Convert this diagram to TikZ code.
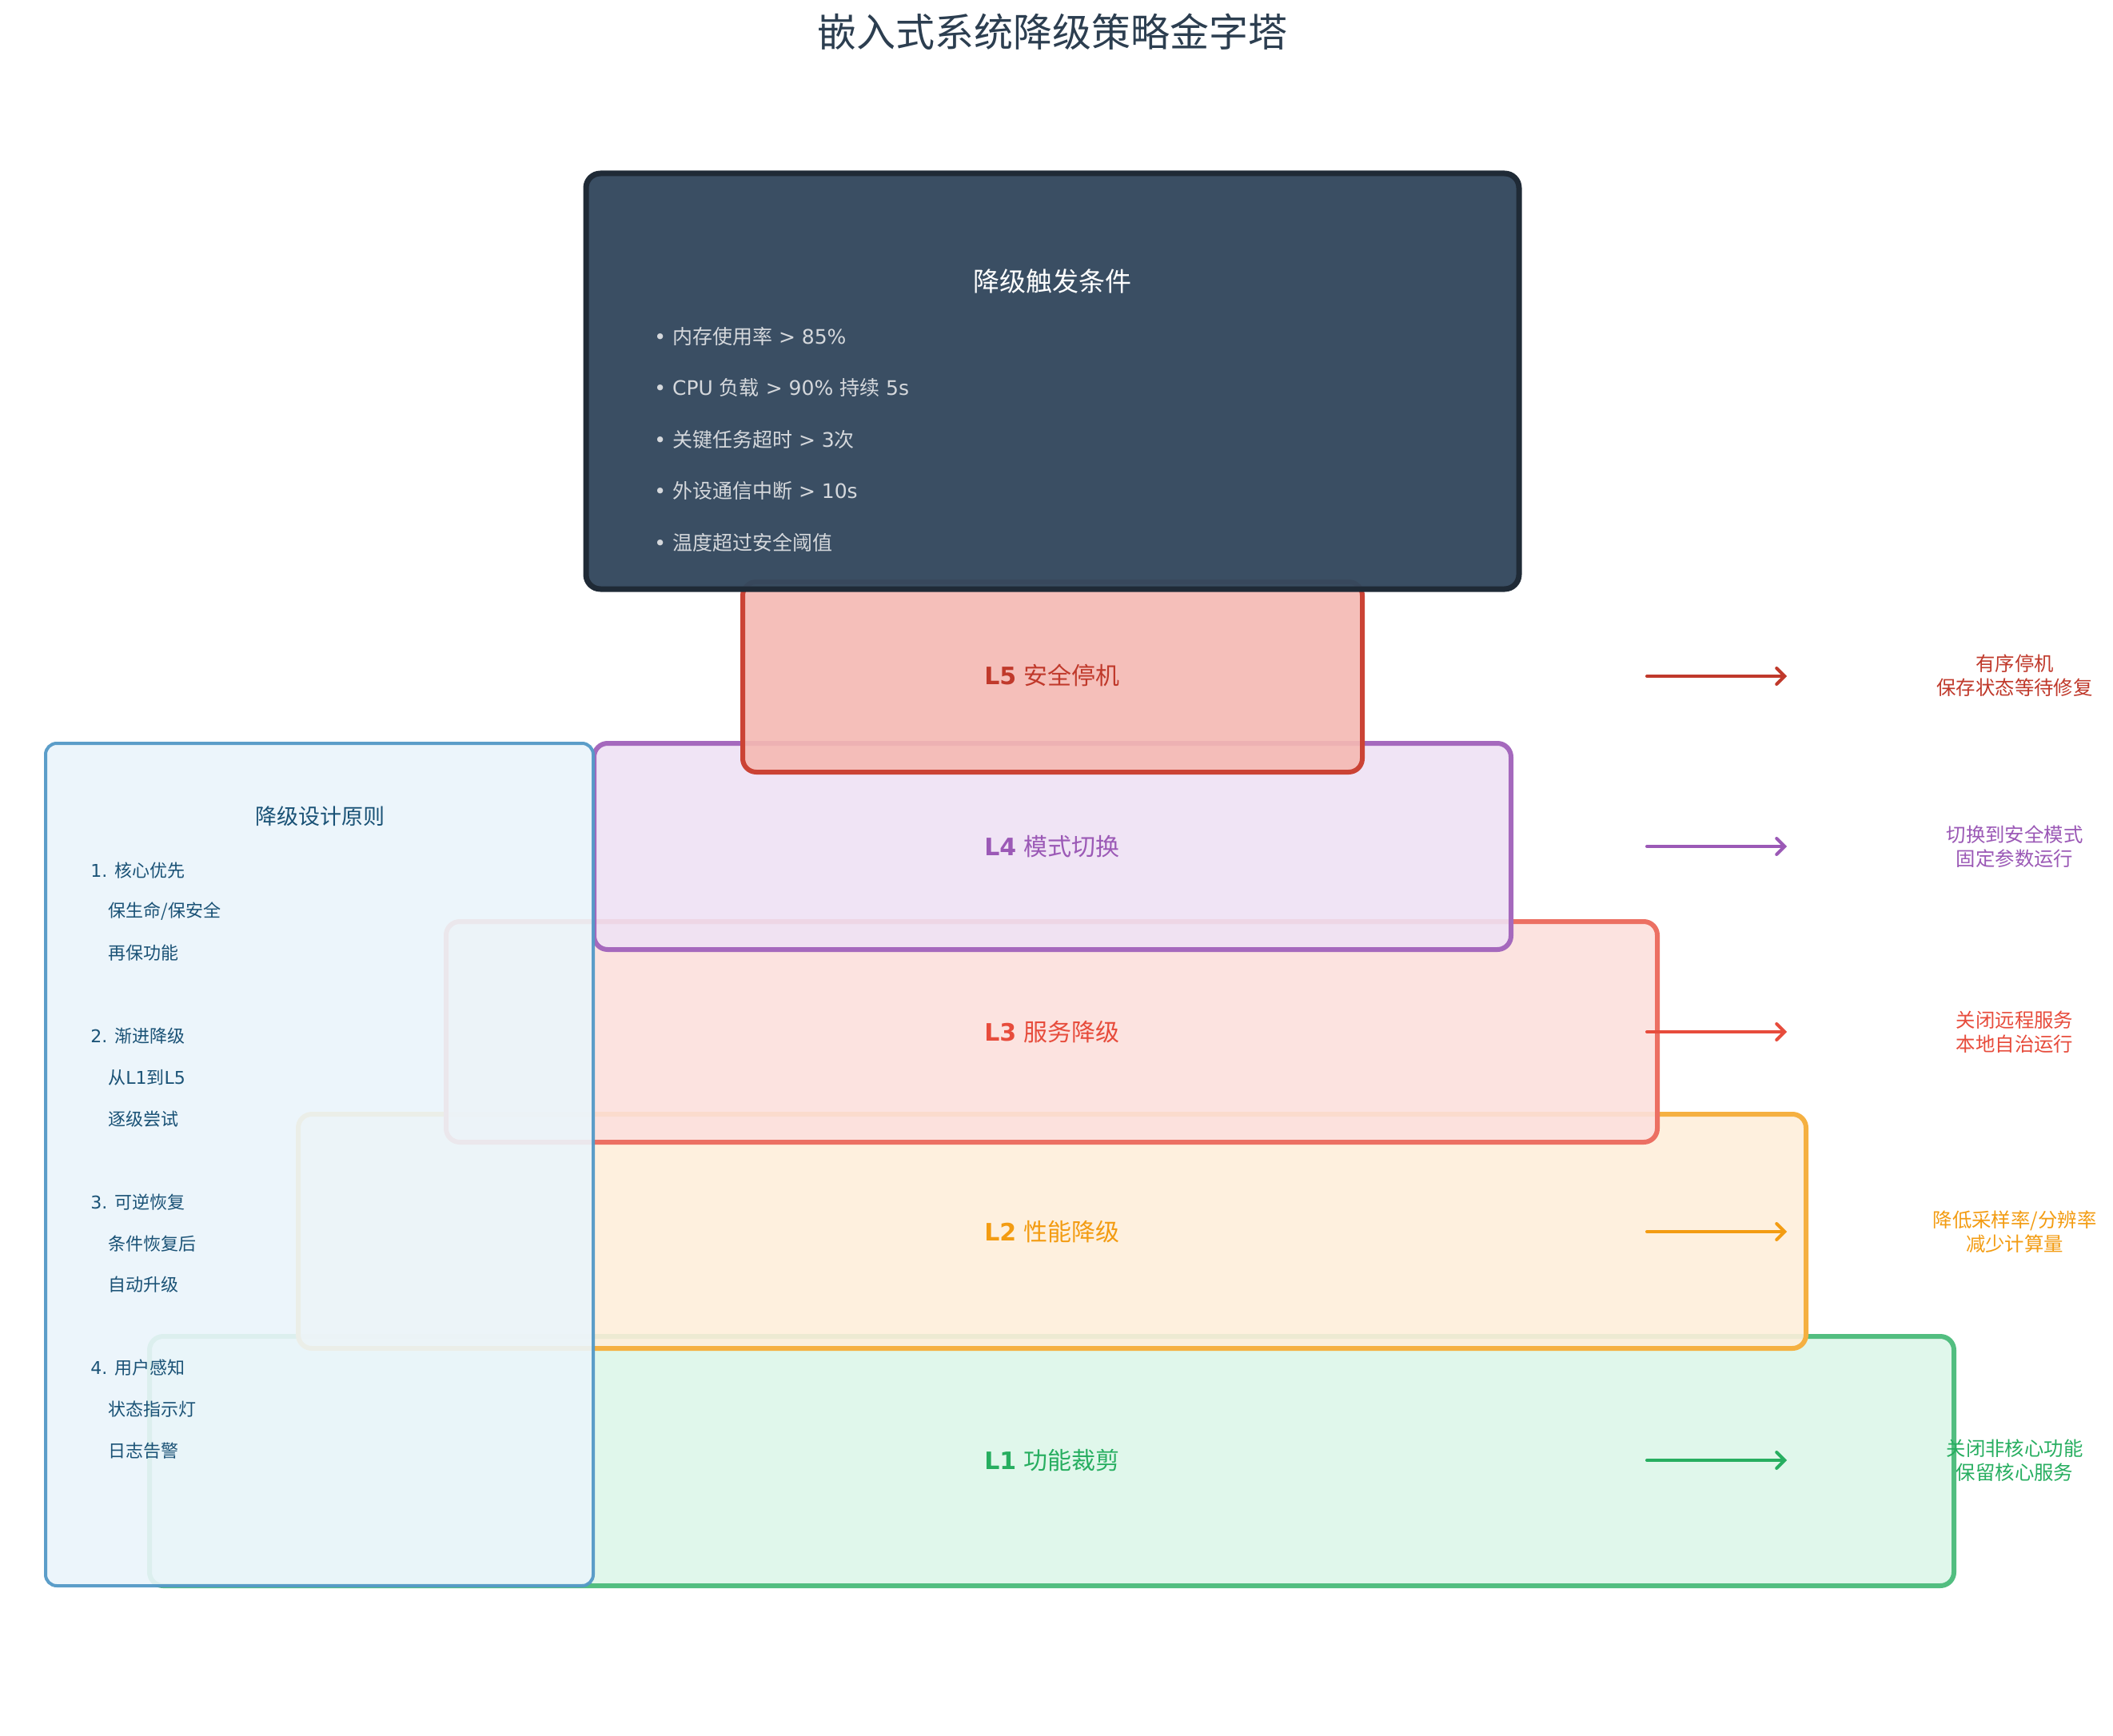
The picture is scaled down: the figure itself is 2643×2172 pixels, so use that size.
\documentclass[tikz,border=0pt]{standalone}
\usepackage{fontspec}
\setmainfont{DejaVu Sans}
\newfontfamily\cjk{Noto Sans CJK SC}
\usetikzlibrary{arrows.meta}
\definecolor{titlec}{HTML}{2C3E50}
\definecolor{trigfill}{HTML}{34495E}
\definecolor{trigline}{HTML}{1F2A36}
\definecolor{trigtext}{HTML}{D5D8DC}
\definecolor{lfive}{HTML}{C0392B}
\definecolor{lfivefill}{HTML}{F5B9B3}
\definecolor{lfiveline}{HTML}{CB4335}
\definecolor{lfour}{HTML}{9B59B6}
\definecolor{lfourfill}{HTML}{EFE2F4}
\definecolor{lfourline}{HTML}{A569BD}
\definecolor{lthree}{HTML}{E74C3C}
\definecolor{lthreefill}{HTML}{FCE0DD}
\definecolor{lthreeline}{HTML}{EC7063}
\definecolor{ltwo}{HTML}{F39C12}
\definecolor{ltwofill}{HTML}{FEEFDB}
\definecolor{ltwoline}{HTML}{F5B041}
\definecolor{lone}{HTML}{27AE60}
\definecolor{lonefill}{HTML}{DDF7E9}
\definecolor{loneline}{HTML}{52BE80}
\definecolor{princfill}{HTML}{EBF5FB}
\definecolor{princline}{HTML}{5499C7}
\definecolor{princtext}{HTML}{1A5276}
\tikzset{
  layerbox/.style={draw, rounded corners=8.5pt, line width=3pt, fill opacity=0.9, text opacity=1, inner sep=0pt},
  layerlabel/.style={font=\fontsize{15}{18}\selectfont},
  bullet/.style={anchor=west, text=trigtext, font=\fontsize{12.5}{15}\selectfont, inner sep=0pt},
  princitem/.style={anchor=west, text=princtext, font=\fontsize{11}{13}\selectfont, inner sep=0pt},
  note/.style={align=center, font=\fontsize{12.2}{15}\selectfont, inner sep=0pt},
  levelarrow/.style={line width=2pt, line cap=round, -{Straight Barb[length=5pt,width=10pt,line cap=round]}}
}
\begin{document}
\begin{tikzpicture}[x=0.5pt,y=-0.5pt]
\path[use as bounding box, fill=white] (0,0) rectangle (2643,2172);

% title
\node[text=titlec, font=\fontsize{24.5}{30}\selectfont\cjk] (title) at (1316,40) {嵌入式系统降级策略金字塔};

% pyramid layers (bottom first)
\node[layerbox, draw=loneline, fill=lonefill, minimum width=1128.5pt, minimum height=156pt] (L1) at (1315.5,1828) {};
\node[layerbox, draw=ltwoline, fill=ltwofill, minimum width=943pt, minimum height=146.5pt] (L2) at (1316,1540.5) {};
\node[layerbox, draw=lthreeline, fill=lthreefill, minimum width=757.5pt, minimum height=138pt] (L3) at (1315.5,1291) {};
\node[layerbox, draw=lfourline, fill=lfourfill, minimum width=573.5pt, minimum height=129pt] (L4) at (1316.5,1059) {};
\node[layerbox, draw=lfiveline, fill=lfivefill, minimum width=387.5pt, minimum height=119pt] (L5) at (1316.5,847) {};

\node[layerlabel, text=lone] (L1t) at (1316,1827) {\textbf{L1} {\cjk 功能裁剪}};
\node[layerlabel, text=ltwo] (L2t) at (1316,1541) {\textbf{L2} {\cjk 性能降级}};
\node[layerlabel, text=lthree] (L3t) at (1316,1291) {\textbf{L3} {\cjk 服务降级}};
\node[layerlabel, text=lfour] (L4t) at (1316,1059) {\textbf{L4} {\cjk 模式切换}};
\node[layerlabel, text=lfive] (L5t) at (1316,845) {\textbf{L5} {\cjk 安全停机}};

% trigger box
\node[draw=trigline, fill=trigfill, fill opacity=0.97, rounded corners=9pt, line width=3.5pt, minimum width=583.5pt, minimum height=260pt, inner sep=0pt] (trig) at (1316.5,477) {};
\node[text=white, font=\fontsize{16.5}{20}\selectfont\cjk] (trigt) at (1316,352) {降级触发条件};
\node[bullet] (b1) at (818,421) {• {\cjk 内存使用率} > 85\%};
\node[bullet] (b2) at (818,485) {• CPU {\cjk 负载} > 90\% {\cjk 持续} 5s};
\node[bullet] (b3) at (818,550) {• {\cjk 关键任务超时} > 3{\cjk 次}};
\node[bullet] (b4) at (818,614) {• {\cjk 外设通信中断} > 10s};
\node[bullet] (b5) at (818,679) {• {\cjk 温度超过安全阈值}};

% principles box
\node[draw=princline, fill=princfill, fill opacity=0.9, draw opacity=0.95, rounded corners=7pt, line width=2pt, minimum width=342.5pt, minimum height=527pt, inner sep=0pt] (princ) at (399.5,1457) {};
\node[text=princtext, font=\fontsize{13.5}{16}\selectfont\cjk] (princt) at (400,1021) {降级设计原则};
\node[princitem] (p1) at (113,1089) {1. {\cjk 核心优先}};
\node[princitem] (p1a) at (135,1140) {{\cjk 保生命/保安全}};
\node[princitem] (p1b) at (135,1192) {{\cjk 再保功能}};
\node[princitem] (p2) at (113,1296) {2. {\cjk 渐进降级}};
\node[princitem] (p2a) at (135,1348) {{\cjk 从}L1{\cjk 到}L5};
\node[princitem] (p2b) at (135,1400) {{\cjk 逐级尝试}};
\node[princitem] (p3) at (113,1504) {3. {\cjk 可逆恢复}};
\node[princitem] (p3a) at (135,1556) {{\cjk 条件恢复后}};
\node[princitem] (p3b) at (135,1607) {{\cjk 自动升级}};
\node[princitem] (p4) at (113,1711) {4. {\cjk 用户感知}};
\node[princitem] (p4a) at (135,1763) {{\cjk 状态指示灯}};
\node[princitem] (p4b) at (135,1815) {{\cjk 日志告警}};

% arrows and outcome notes
\coordinate (a5s) at (2060,846); \coordinate (a5e) at (2235,846);
\coordinate (a4s) at (2060,1059); \coordinate (a4e) at (2235,1059);
\coordinate (a3s) at (2060,1291); \coordinate (a3e) at (2235,1291);
\coordinate (a2s) at (2060,1541); \coordinate (a2e) at (2235,1541);
\coordinate (a1s) at (2060,1827); \coordinate (a1e) at (2235,1827);
\draw[levelarrow, draw=lfive] (a5s) -- (a5e);
\draw[levelarrow, draw=lfour] (a4s) -- (a4e);
\draw[levelarrow, draw=lthree] (a3s) -- (a3e);
\draw[levelarrow, draw=ltwo] (a2s) -- (a2e);
\draw[levelarrow, draw=lone] (a1s) -- (a1e);

\node[note, text=lfive, font=\fontsize{12.2}{15}\selectfont\cjk] (n5) at (2520,845) {有序停机\\保存状态等待修复};
\node[note, text=lfour, font=\fontsize{12.2}{15}\selectfont\cjk] (n4) at (2520,1059) {切换到安全模式\\固定参数运行};
\node[note, text=lthree, font=\fontsize{12.2}{15}\selectfont\cjk] (n3) at (2520,1291) {关闭远程服务\\本地自治运行};
\node[note, text=ltwo, font=\fontsize{12.2}{15}\selectfont\cjk] (n2) at (2520,1541) {降低采样率/分辨率\\减少计算量};
\node[note, text=lone, font=\fontsize{12.2}{15}\selectfont\cjk] (n1) at (2520,1827) {关闭非核心功能\\保留核心服务};
\end{tikzpicture}
\end{document}
